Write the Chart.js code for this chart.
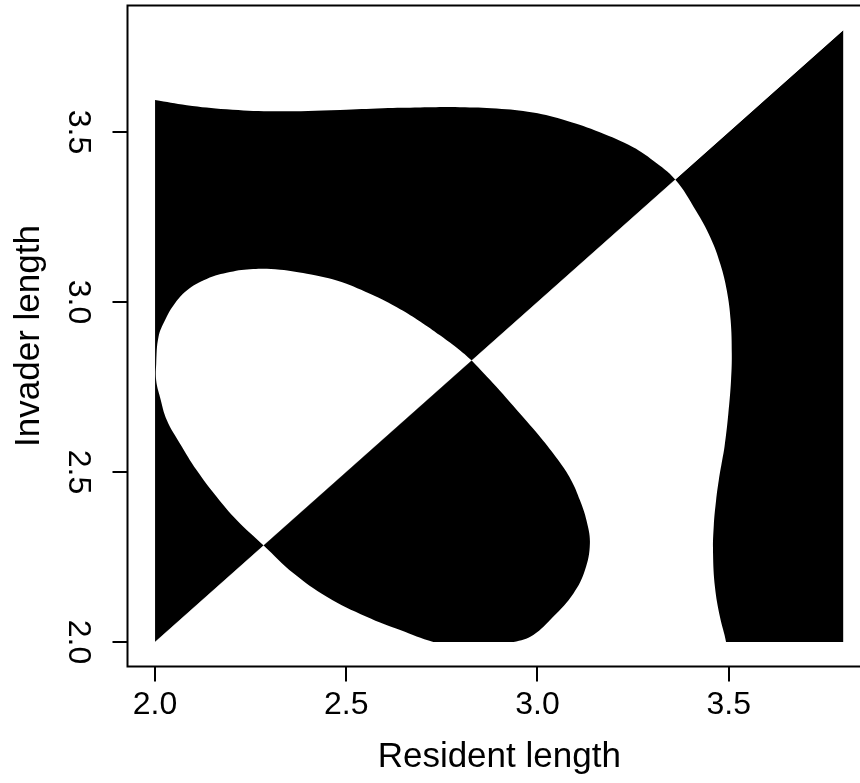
<!DOCTYPE html>
<html>
<head>
<meta charset="utf-8">
<title>Pairwise invasibility plot</title>
<script src="https://cdn.jsdelivr.net/npm/chart.js@4/dist/chart.umd.min.js"></script>
<style>
  html, body { margin: 0; padding: 0; background: #fff; overflow: hidden; }
  #wrap { width: 880px; height: 783px; }
  canvas { display: block; }
</style>
</head>
<body>
<div id="wrap"><canvas id="pip" width="880" height="783"></canvas></div>
<script>
// axis ticks (same on both axes)
const tickValues = [2.0, 2.5, 3.0, 3.5];

// trait range that was computed (both axes)
const domain = [2.0, 3.8];

// upper boundary, left to right, ending where it crosses the diagonal
const topBoundary = [
  [2.0, 3.594], [2.083, 3.579], [2.187, 3.567], [2.301, 3.561], [2.484, 3.565],
  [2.596, 3.570], [2.693, 3.572], [2.797, 3.573], [2.893, 3.569], [2.988, 3.557],
  [3.076, 3.533], [3.163, 3.499], [3.25, 3.455], [3.302, 3.416], [3.36, 3.36]
];

// same boundary continuing below the diagonal, down to the bottom edge
const rightBoundary = [
  [3.36, 3.36], [3.414, 3.269], [3.452, 3.19], [3.478, 3.112], [3.495, 3.034],
  [3.505, 2.946], [3.508, 2.848], [3.506, 2.769], [3.499, 2.672], [3.489, 2.574],
  [3.483, 2.535], [3.474, 2.476], [3.467, 2.417], [3.461, 2.344], [3.459, 2.261],
  [3.464, 2.162], [3.477, 2.074], [3.493, 2.0]
];

// closed loop, part above the diagonal (upper crossing round to lower crossing)
const loopUpper = [
  [2.828, 2.828], [2.797, 2.858], [2.745, 2.902], [2.693, 2.943], [2.641, 2.979],
  [2.562, 3.024], [2.475, 3.063], [2.397, 3.083], [2.327, 3.095], [2.257, 3.097],
  [2.196, 3.088], [2.135, 3.068], [2.083, 3.034], [2.048, 2.99], [2.026, 2.946],
  [2.009, 2.897], [2.003, 2.818], [2.003, 2.769], [2.013, 2.72], [2.031, 2.652],
  [2.065, 2.584], [2.109, 2.505], [2.161, 2.427], [2.214, 2.358], [2.284, 2.284]
];

// closed loop, part below the diagonal (lower crossing round to upper crossing);
// the loop dips under the bottom edge between 2.73 and 2.94
const loopLower = [
  [2.284, 2.284], [2.362, 2.202], [2.449, 2.133], [2.553, 2.074], [2.641, 2.035],
  [2.728, 2.0], [2.83, 1.977], [2.937, 2.0], [2.989, 2.021], [3.041, 2.074],
  [3.094, 2.143], [3.124, 2.211], [3.137, 2.29], [3.128, 2.358], [3.111, 2.417],
  [3.088, 2.476], [3.054, 2.535], [3.007, 2.603], [2.954, 2.672], [2.893, 2.75],
  [2.828, 2.828]
];

// closing points for the inner region, outside the computed range (clipped away)
const outsideClose = [[3.52, 1.8], [1.8, 1.8], [1.8, 3.6], [2.0, 3.594]];

const toPts = arr => arr.map(p => ({ x: p[0], y: p[1] }));

// region enclosed by the top/right boundary
const inner = topBoundary.concat(rightBoundary.slice(1), outsideClose);
// the loop as one closed curve
const loop = loopUpper.concat(loopLower.slice(1));
// part of the range below the diagonal
const lowerHalf = [[domain[0], domain[0]], [domain[1], domain[0]], [domain[1], domain[1]], [domain[0], domain[0]]];

const shape = (pts, color, half, order, tension) => ({
  data: toPts(pts),
  showLine: true,
  fill: 'shape',
  backgroundColor: color,
  borderColor: 'rgba(0,0,0,0)',
  borderWidth: 0,
  pointRadius: 0,
  tension: tension,
  order: order,
  half: half
});

// above the diagonal: inner region black, loop white
// below the diagonal: everything flipped
const datasets = [
  shape(inner, '#000', 'upper', 5, 0.4),
  shape(loop, '#fff', 'upper', 4, 0.4),
  shape(lowerHalf, '#000', 'lower', 3, 0),
  shape(inner, '#fff', 'lower', 2, 0.4),
  shape(loop, '#000', 'lower', 1, 0.4)
];

// clip each dataset to its side of the diagonal inside the computed range
function clipHalf(chart, meta) {
  const ctx = chart.ctx;
  const xs = chart.scales.x, ys = chart.scales.y;
  const half = chart.data.datasets[meta.index].half;
  const x0 = xs.getPixelForValue(domain[0]), x1 = xs.getPixelForValue(domain[1]);
  const y0 = ys.getPixelForValue(domain[0]), y1 = ys.getPixelForValue(domain[1]);
  ctx.save();
  ctx.beginPath();
  ctx.moveTo(x0, y0);
  if (half === 'upper') ctx.lineTo(x0, y1);
  else ctx.lineTo(x1, y0);
  ctx.lineTo(x1, y1);
  ctx.closePath();
  ctx.clip();
}

// the filler paints inside beforeDatasetDraw, so the clip for the next
// dataset is set up once the previous one is finished
const halfClipPlugin = {
  id: 'halfClip',
  beforeDatasetsDraw(chart) {
    chart.$drawSeq = chart.getSortedVisibleDatasetMetas().slice().reverse();
    chart.$drawPos = 0;
    if (chart.$drawSeq.length) clipHalf(chart, chart.$drawSeq[0]);
  },
  afterDatasetDraw(chart) {
    chart.ctx.restore();
    chart.$drawPos++;
    if (chart.$drawPos < chart.$drawSeq.length) clipHalf(chart, chart.$drawSeq[chart.$drawPos]);
  }
};

// box around the plot region
const boxPlugin = {
  id: 'box',
  afterDatasetsDraw(chart) {
    const { ctx, chartArea: a } = chart;
    ctx.save();
    ctx.strokeStyle = '#000';
    ctx.lineWidth = 2;
    ctx.strokeRect(a.left, a.top, a.right - a.left, a.bottom - a.top);
    ctx.restore();
  }
};

const family = '"Liberation Sans", Arial, Helvetica, sans-serif';
const tickFont = { family: family, size: 32 };
const titleFont = { family: family, size: 35 };

const axisCommon = {
  type: 'linear',
  min: 1.928,
  max: 3.872,
  afterBuildTicks: (scale) => { scale.ticks = tickValues.map(v => ({ value: v })); },
  grid: {
    display: true,
    drawOnChartArea: false,
    drawTicks: true,
    tickLength: 15,
    tickWidth: 2,
    tickColor: '#000',
    lineWidth: 2,
    color: '#000'
  },
  border: { display: false }
};

new Chart(document.getElementById('pip'), {
  type: 'scatter',
  data: { datasets: datasets },
  options: {
    responsive: false,
    animation: false,
    events: [],
    layout: { padding: { top: 5.5, right: 9, left: 0, bottom: 0 } },
    plugins: { legend: { display: false }, tooltip: { enabled: false } },
    scales: {
      x: Object.assign({}, axisCommon, {
        afterFit: (scale) => {
          scale.height = 116.5;
          scale.paddingLeft = 0;
          scale.paddingRight = 0;
        },
        ticks: {
          color: '#000', font: tickFont, padding: 4,
          autoSkip: false, maxRotation: 0, minRotation: 0,
          callback: (v) => Number(v).toFixed(1)
        },
        title: {
          display: true, text: 'Resident length', color: '#000', font: titleFont,
          padding: { top: 0, bottom: 5 }
        }
      }),
      y: Object.assign({}, axisCommon, {
        afterFit: (scale) => {
          scale.width = 127.5;
          scale.paddingTop = 0;
          scale.paddingBottom = 0;
        },
        ticks: {
          color: '#000', font: tickFont, padding: 12,
          autoSkip: false, minRotation: -90, maxRotation: -90,
          crossAlign: 'center',
          callback: (v) => Number(v).toFixed(1)
        },
        title: {
          display: true, text: 'Invader length', color: '#000', font: titleFont,
          padding: { top: 8, bottom: 0 }
        }
      })
    }
  },
  plugins: [halfClipPlugin, boxPlugin]
});
</script>
</body>
</html>
